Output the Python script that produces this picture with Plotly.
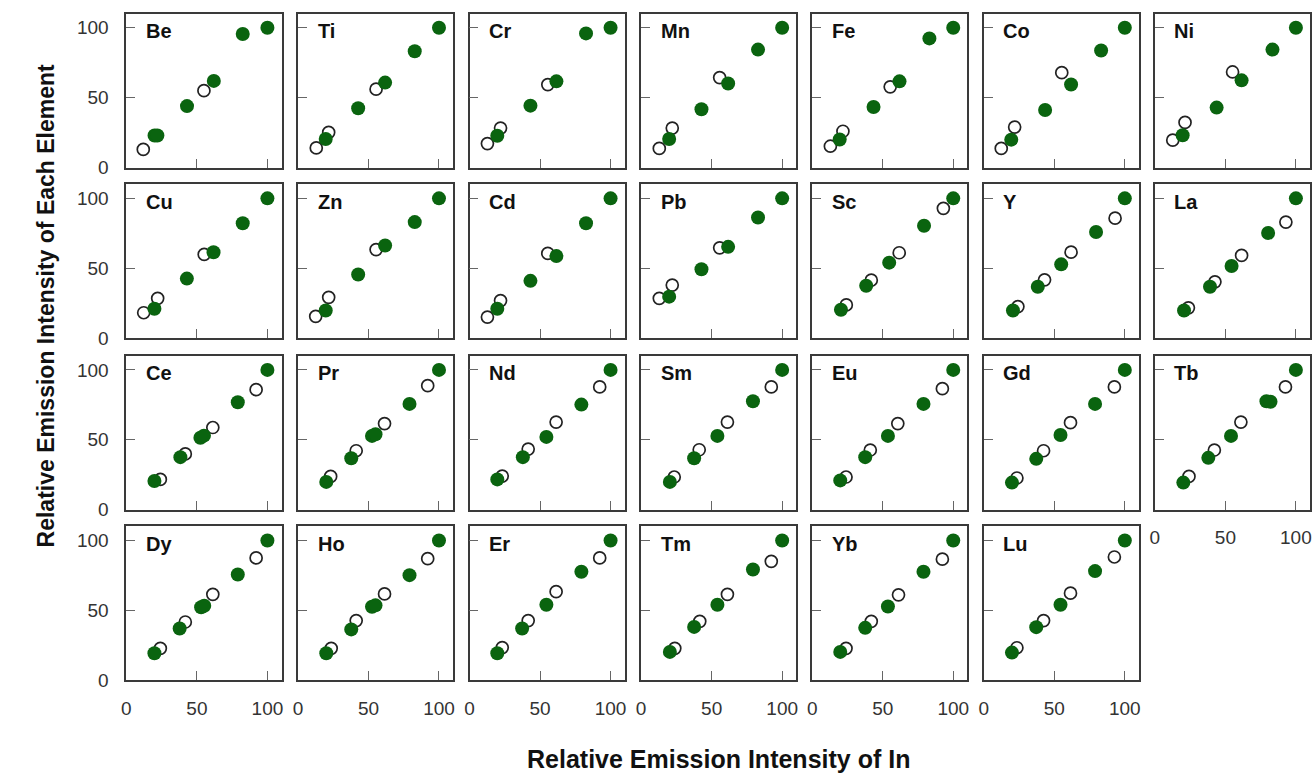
import plotly.graph_objects as go

# ---------------- data ----------------
elements = ["Be", "Ti", "Cr", "Mn", "Fe", "Co", "Ni",
            "Cu", "Zn", "Cd", "Pb", "Sc", "Y", "La",
            "Ce", "Pr", "Nd", "Sm", "Eu", "Gd", "Tb",
            "Dy", "Ho", "Er", "Tm", "Yb", "Lu"]

# open circles (x, y) per element
open_x = [
    [12, 55], [13, 21.8, 55.4], [12.7, 22, 55.5], [12.9, 22.1, 55.7], [12.9, 21.8, 55.3],
    [12.4, 21.9, 55.3], [12.7, 21.4, 55.1],
    [12.3, 22.2, 55.2], [12.6, 21.8, 55.4], [12.7, 22, 55.5], [12.9, 22.1, 55.7],
    [24.2, 41.9, 61.7, 93.0], [24.2, 43.1, 61.9, 93.1], [23.8, 42.6, 61.5, 92.9],
    [24.1, 41.8, 61.3, 92.0], [23.2, 41.3, 61.4, 92.0], [23.2, 41.6, 61.4, 92.3],
    [23.5, 41.2, 61.2, 92.3], [24.0, 41.2, 60.7, 92.3], [23.5, 42.4, 61.5, 92.6],
    [24.2, 42.2, 61.0, 92.6],
    [24.1, 41.8, 61.3, 92.0], [23.6, 41.3, 61.4, 92.0], [23.2, 41.6, 61.4, 92.3],
    [23.9, 41.6, 61.2, 92.3], [24.0, 41.9, 61.2, 92.3], [23.5, 42.4, 61.5, 92.6],
]
open_y = [
    [13, 55], [14.1, 25.2, 56.1], [17.2, 28.3, 59.4], [13.7, 28.3, 64.4], [15.3, 26.0, 57.8],
    [13.7, 29.0, 67.9], [19.6, 32.3, 68.4],
    [18.2, 28.5, 59.9], [15.6, 29.2, 63.4], [15.1, 26.9, 60.6], [28.5, 38.0, 64.6],
    [23.8, 41.5, 61.1, 92.9], [22.6, 41.7, 61.5, 85.8], [21.7, 40.3, 59.2, 83.0],
    [21.7, 39.9, 58.8, 85.9], [23.8, 42.2, 61.6, 88.7], [24.1, 43.4, 62.7, 87.8],
    [23.4, 42.9, 62.7, 87.8], [23.4, 42.7, 61.6, 86.6], [22.7, 42.2, 62.3, 87.8],
    [23.8, 42.7, 62.7, 87.8],
    [22.9, 41.7, 61.5, 87.5], [22.9, 42.7, 61.8, 87.0], [23.4, 42.7, 63.4, 87.5],
    [22.9, 42.2, 61.5, 85.1], [22.9, 42.2, 61.1, 86.6], [23.3, 42.7, 62.3, 88.2],
]

# filled green circles (x, y) per element
fill_x = [
    [20, 22, 43, 62, 82.5, 100], [19.7, 42.7, 61.8, 82.8, 100], [19.7, 43.2, 61.6, 82.6, 100],
    [19.9, 42.8, 61.7, 82.9, 100], [19.5, 43.5, 61.9, 83.1, 100], [19.5, 43.5, 61.9, 83.2, 100],
    [19.7, 43.8, 61.5, 83.4, 100],
    [19.9, 42.9, 61.8, 82.5, 100], [19.7, 42.7, 61.8, 82.8, 100], [19.7, 43.2, 61.6, 82.6, 100],
    [19.9, 42.8, 61.7, 82.9, 100], [20.4, 38.3, 54.6, 79.3, 100], [20.7, 38.3, 54.9, 79.6, 100],
    [20.7, 39.1, 54.4, 80.3, 100],
    [19.9, 38.3, 52.5, 55.0, 79.0, 100], [20.1, 37.8, 52.5, 55.0, 79.1, 100],
    [19.7, 37.8, 54.5, 79.3, 100], [20.4, 37.6, 54.1, 79.3, 100], [19.9, 37.6, 53.7, 78.9, 100],
    [20.0, 37.2, 54.4, 78.9, 100], [20.2, 37.9, 54.0, 79.1, 82.0, 100],
    [19.9, 37.8, 53.0, 55.2, 79.0, 100], [20.1, 37.8, 52.5, 55.0, 79.1, 100],
    [19.7, 37.3, 54.5, 79.3, 100], [20.4, 37.6, 54.1, 79.3, 100], [19.9, 37.6, 53.7, 78.9, 100],
    [20.0, 37.2, 54.4, 78.9, 100],
]
fill_y = [
    [23, 23, 44, 62, 95.5, 100], [20.5, 42.4, 60.8, 83.2, 100], [22.8, 44.3, 61.7, 96.0, 100],
    [20.5, 41.7, 60.1, 84.4, 100], [20.1, 43.3, 61.7, 92.4, 100], [20.0, 41.2, 59.4, 83.7, 100],
    [23.1, 42.9, 62.4, 84.4, 100],
    [21.0, 42.6, 61.5, 82.2, 100], [19.8, 45.5, 66.3, 83.0, 100], [21.0, 41.0, 58.7, 82.2, 100],
    [29.7, 49.3, 65.3, 86.3, 100], [20.3, 37.5, 54.0, 80.4, 100], [19.8, 36.8, 52.8, 75.9, 100],
    [19.8, 36.8, 51.6, 75.2, 100],
    [20.6, 37.6, 51.5, 53.0, 76.9, 100], [19.9, 36.8, 52.8, 54.0, 75.7, 100],
    [21.7, 37.6, 52.1, 75.2, 100], [19.9, 36.8, 52.8, 77.6, 100], [21.0, 37.6, 52.8, 75.7, 100],
    [19.4, 36.4, 53.5, 75.7, 100], [19.4, 37.1, 52.8, 77.6, 77.2, 100],
    [19.4, 37.1, 52.3, 53.3, 75.7, 100], [19.4, 36.4, 52.6, 53.6, 75.2, 100],
    [19.4, 37.1, 54.0, 77.6, 100], [20.3, 38.2, 54.0, 79.2, 100], [20.3, 37.5, 52.8, 77.6, 100],
    [19.8, 38.0, 54.0, 78.1, 100],
]

tick_vals = [0, 50, 100]
tick_text = ["0", "50", "100"]
x_title = "Relative Emission Intensity of In"
y_title = "Relative Emission Intensity of Each Element"

# ---------------- layout geometry (pixels) ----------------
W, H = 1314, 783
col_left = [122, 294.5, 467, 639.5, 811.5, 984, 1156]
row_top = [14, 187, 361, 534]
PW = 156
GREEN = "#0a640f"
FONT = "Liberation Sans, Arial, sans-serif"

fig = go.Figure()
layout = dict(
    width=W, height=H,
    margin=dict(l=0, r=0, t=0, b=0),
    paper_bgcolor="white", plot_bgcolor="white",
    showlegend=False,
    font=dict(family=FONT, color="#333333"),
)
annotations = []

for k, el in enumerate(elements):
    r, c = divmod(k, 7)
    xn = "x" if k == 0 else f"x{k+1}"
    yn = "y" if k == 0 else f"y{k+1}"
    xa = "xaxis" if k == 0 else f"xaxis{k+1}"
    ya = "yaxis" if k == 0 else f"yaxis{k+1}"
    left = col_left[c]
    top = row_top[r]
    xdom = [left / W, (left + PW) / W]
    ydom = [1 - (top + PW) / H, 1 - top / H]
    show_x = (r == 3) or (el == "Tb")
    show_y = (c == 0)
    common = dict(
        range=[0, 110], showgrid=False, zeroline=False,
        showline=True, linecolor="#3a3a3a", linewidth=1.8, mirror=True,
        ticks="inside", ticklen=9, tickwidth=1, tickcolor="#666666",
        tickvals=tick_vals, ticktext=tick_text,
        tickfont=dict(family=FONT, size=19, color="#333333"),
        fixedrange=True,
    )
    layout[xa] = dict(common, domain=xdom, anchor=yn, showticklabels=show_x,
                      ticklabelstandoff=10)
    layout[ya] = dict(common, domain=ydom, anchor=xn, showticklabels=show_y,
                      ticklabelstandoff=12)

    fig.add_trace(go.Scatter(
        x=open_x[k], y=open_y[k], mode="markers", xaxis=xn, yaxis=yn,
        marker=dict(size=12, color="white", line=dict(color="#222222", width=1.7)),
        cliponaxis=False, hoverinfo="x+y",
    ))
    fig.add_trace(go.Scatter(
        x=fill_x[k], y=fill_y[k], mode="markers", xaxis=xn, yaxis=yn,
        marker=dict(size=14, color=GREEN, line=dict(width=0)),
        cliponaxis=False, hoverinfo="x+y",
    ))
    annotations.append(dict(
        text=f"<b>{el}</b>", x=12.5, y=97.5, xref=xn, yref=yn,
        xanchor="left", yanchor="middle", showarrow=False,
        font=dict(family=FONT, size=20, color="#111111"),
    ))

annotations.append(dict(
    text=f"<b>{x_title}</b>", x=717 / W, y=1 - 770 / H, xref="paper", yref="paper",
    xanchor="center", yanchor="middle", showarrow=False,
    font=dict(family=FONT, size=25, color="#111111"),
))
annotations.append(dict(
    text=f"<b>{y_title}</b>", x=41 / W, y=1 - 310 / H, xref="paper", yref="paper",
    xanchor="center", yanchor="middle", showarrow=False, textangle=-90,
    font=dict(family=FONT, size=23, color="#111111"),
))
layout["annotations"] = annotations
fig.update_layout(**layout)
fig.write_html("out.html")
